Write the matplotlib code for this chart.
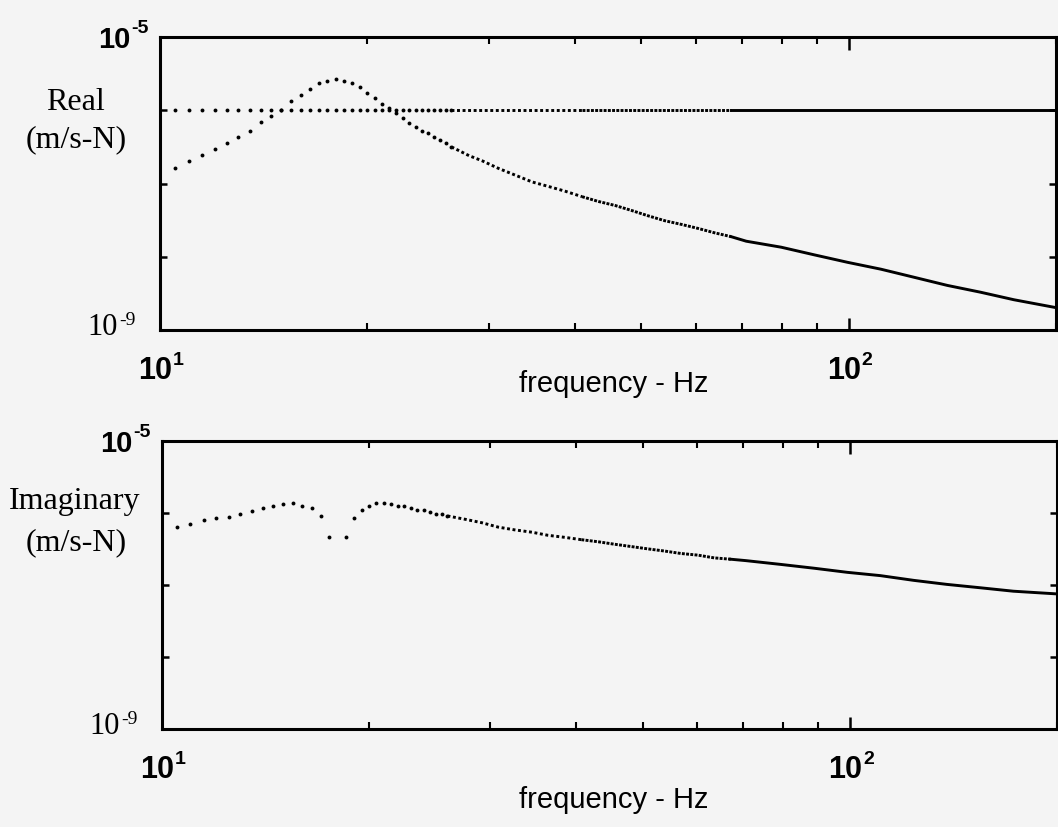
import numpy as np
import matplotlib
matplotlib.use('Agg')
import matplotlib.pyplot as plt
from matplotlib.ticker import FixedLocator, NullLocator

# --- data (frequency in Hz, mobility in m/s-N) ---
# real part, individual dots at low frequency
f_real_lo = [10.5, 11.0, 11.5, 12.0, 12.5, 13.0, 13.5, 14.0, 14.5, 15.0, 15.5,
             16.0, 16.5, 17.0, 17.5, 18.0, 18.5, 19.0, 19.5, 20.0, 20.5, 21.0,
             21.5, 22.0, 22.5, 23.0, 23.5, 24.0, 24.5, 25.0, 25.5, 26.0, 26.5]
real_lo = [1.65e-7, 2.00e-7, 2.43e-7, 2.94e-7, 3.54e-7, 4.32e-7, 5.19e-7,
           6.82e-7, 8.30e-7, 1.02e-6, 1.32e-6, 1.59e-6, 1.95e-6, 2.36e-6,
           2.54e-6, 2.70e-6, 2.53e-6, 2.37e-6, 2.06e-6, 1.71e-6, 1.47e-6,
           1.23e-6, 1.08e-6, 9.23e-7, 7.76e-7, 6.76e-7, 5.96e-7, 5.25e-7,
           4.92e-7, 4.35e-7, 3.98e-7, 3.59e-7, 3.16e-7]
# real part, dense part (dots merge into a line)
f_real_hi = [28.1, 29.4, 31.0, 32.8, 34.7, 36.7, 38.8, 41.0, 43.3, 45.8, 48.4,
             51.2, 54.1, 57.2, 60.5, 63.9, 67.5, 71.0, 79.8, 89.2, 99.7, 111.4,
             124.5, 139.1, 155.4, 173.7, 200.0]
real_hi = [2.40e-7, 2.03e-7, 1.61e-7, 1.30e-7, 1.05e-7, 9.08e-8, 7.82e-8,
           6.61e-8, 5.69e-8, 5.01e-8, 4.28e-8, 3.61e-8, 3.10e-8, 2.76e-8,
           2.43e-8, 2.12e-8, 1.88e-8, 1.63e-8, 1.35e-8, 1.06e-8, 8.38e-9,
           6.76e-9, 5.24e-9, 4.06e-9, 3.28e-9, 2.59e-9, 2.02e-9]
# flat reference curve in the real panel
static_level = 1.0e-6
f_static_hi = [26.5, 41.0, 67.5, 200.0]

# imaginary part (no dot at 18 Hz: sign change)
f_imag_lo = [10.5, 11.0, 11.5, 12.0, 12.5, 13.0, 13.5, 14.0, 14.5, 15.0, 15.5,
             16.0, 16.5, 17.0, 17.5, 18.5, 19.0, 19.5, 20.0, 20.5, 21.0, 21.5,
             22.0, 22.5, 23.0, 23.5, 24.0, 24.5, 25.0, 25.5, 26.0]
imag_lo = [6.44e-7, 6.95e-7, 7.96e-7, 8.39e-7, 8.81e-7, 9.59e-7, 1.08e-6,
           1.17e-6, 1.26e-6, 1.33e-6, 1.36e-6, 1.27e-6, 1.17e-6, 9.12e-7,
           4.70e-7, 4.70e-7, 8.53e-7, 1.10e-6, 1.25e-6, 1.36e-6, 1.36e-6,
           1.34e-6, 1.26e-6, 1.25e-6, 1.17e-6, 1.09e-6, 1.10e-6, 1.04e-6,
           9.79e-7, 9.70e-7, 9.10e-7]
f_imag_hi = [27.6, 29.2, 30.8, 32.6, 34.5, 36.4, 38.5, 40.7, 43.1, 45.5, 48.1,
             50.9, 53.8, 56.8, 60.1, 63.5, 67.1, 70.6, 79.4, 88.7, 99.1, 110.7,
             123.8, 138.3, 154.6, 172.8, 200.0]
imag_hi = [8.17e-7, 7.31e-7, 6.37e-7, 5.82e-7, 5.41e-7, 4.90e-7, 4.59e-7,
           4.26e-7, 3.98e-7, 3.68e-7, 3.42e-7, 3.17e-7, 2.96e-7, 2.74e-7,
           2.60e-7, 2.38e-7, 2.28e-7, 2.18e-7, 1.93e-7, 1.71e-7, 1.50e-7,
           1.35e-7, 1.16e-7, 1.02e-7, 9.16e-8, 8.20e-8, 7.52e-8]

x_major = [10, 100]
x_exps = ['1', '2']
x_minor = [20, 30, 40, 50, 60, 70, 80, 90, 200]
y_ticks = [1e-9, 1e-8, 1e-7, 1e-6, 1e-5]

BG = '#f4f4f4'
SANS = 'Liberation Sans'
SERIF = 'Liberation Serif'
DOT = dict(ls='none', marker='o', ms=2.8, color='k', mec='none')

fig = plt.figure(figsize=(10.58, 8.27), dpi=100, facecolor=BG)
W, H = 1058, 827


def box(l, t, r, b):
    return [l / W, 1 - b / H, (r - l) / W, (b - t) / H]


def trail(ax, f, v):
    # dots get closer with frequency until they merge into a solid line
    f = np.asarray(f)
    v = np.asarray(v)
    wide = f <= 41.5
    dense = (f >= 40.5) & (f <= 68)
    solid = f >= 67
    ax.plot(f[wide], v[wide], color='k', lw=2.1, dashes=(1, 0.9))
    ax.plot(f[dense], v[dense], color='k', lw=2.1, dashes=(1, 0.45))
    ax.plot(f[solid], v[solid], color='k', lw=2.1)


def power_label(ax, xy, coords, base_off, sup_off, exp, family, size,
                sup_size, ha, weight='normal'):
    # "10" plus a raised exponent, placed in pixel offsets from the tick
    ax.annotate('10', xy=xy, xycoords=coords, xytext=base_off,
                textcoords='offset pixels', ha=ha, va='baseline',
                fontsize=size, family=family, weight=weight)
    ax.annotate(exp, xy=xy, xycoords=coords, xytext=sup_off,
                textcoords='offset pixels', ha='left', va='baseline',
                fontsize=sup_size, family=family, weight=weight)


def setup(ax):
    ax.set_facecolor(BG)
    ax.set_xscale('log')
    ax.set_yscale('log')
    ax.set_xlim(10, 200)
    ax.set_ylim(1e-9, 1e-5)
    for s in ax.spines.values():
        s.set_linewidth(2.2)
    ax.xaxis.set_major_locator(FixedLocator(x_major))
    ax.xaxis.set_minor_locator(FixedLocator(x_minor))
    ax.yaxis.set_major_locator(FixedLocator(y_ticks))
    ax.yaxis.set_minor_locator(NullLocator())
    ax.tick_params(which='both', direction='in', top=True, right=True,
                   labelbottom=False, labelleft=False)
    ax.tick_params(axis='x', which='major', length=9, width=1.8)
    ax.tick_params(axis='x', which='minor', length=5, width=1.5)
    ax.tick_params(axis='y', length=5, width=1.8)

    ycoords = ('axes fraction', 'data')
    power_label(ax, (0, 1e-5), ycoords, (-30, -11), (-29, 4), '-5',
                SANS, 21, 14, 'right', 'bold')
    power_label(ax, (0, 1e-9), ycoords, (-42, -5), (-41, 5), '-9',
                SERIF, 22, 14, 'right')
    xcoords = ('data', 'axes fraction')
    for x, e in zip(x_major, x_exps):
        power_label(ax, (x, 0), xcoords, (-5, -49), (13, -35), e,
                    SANS, 22, 14, 'center', 'bold')


# Real part
ax1 = fig.add_axes(box(160, 37, 1056, 330))
setup(ax1)
ax1.plot(f_real_lo, [static_level] * len(f_real_lo), **DOT)
trail(ax1, f_static_hi, [static_level] * len(f_static_hi))
ax1.plot(f_real_lo, real_lo, **DOT)
trail(ax1, f_real_lo[-1:] + f_real_hi, real_lo[-1:] + real_hi)

# Imaginary part
ax2 = fig.add_axes(box(162, 441, 1057, 729))
setup(ax2)
ax2.plot(f_imag_lo, imag_lo, **DOT)
trail(ax2, f_imag_lo[-1:] + f_imag_hi, imag_lo[-1:] + imag_hi)

# axis texts
fig.text(75 / W, 1 - 102 / H, 'Real', ha='center', va='center',
         fontsize=23, family=SERIF)
fig.text(76 / W, 1 - 140 / H, '(m/s-N)', ha='center', va='center',
         fontsize=23, family=SERIF)
fig.text(75 / W, 1 - 502 / H, 'Imaginary', ha='center', va='center',
         fontsize=23, family=SERIF)
fig.text(76 / W, 1 - 543 / H, '(m/s-N)', ha='center', va='center',
         fontsize=23, family=SERIF)
fig.text(614 / W, 1 - 384 / H, 'frequency - Hz', ha='center', va='center',
         fontsize=21, family=SANS)
fig.text(614 / W, 1 - 800 / H, 'frequency - Hz', ha='center', va='center',
         fontsize=21, family=SANS)

fig.savefig('out.png', dpi=100, facecolor=BG)
